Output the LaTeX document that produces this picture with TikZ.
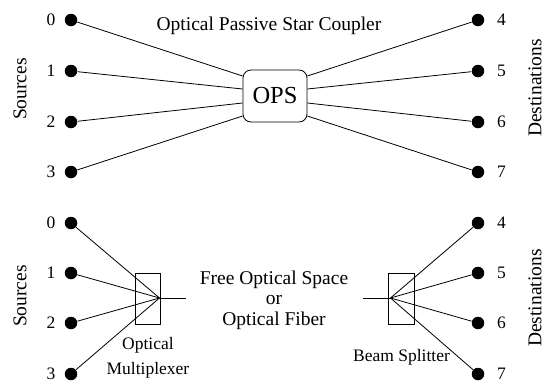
\documentclass[tikz,border=0pt]{standalone}
\usepackage{fontspec}
\setmainfont{Liberation Serif}
\usetikzlibrary{calc}
\begin{document}
\begin{tikzpicture}[x=1pt,y=-1pt, line width=0.8pt,
  dot/.style={circle,fill=black,inner sep=0pt,minimum size=12.5pt},
  num/.style={font=\fontsize{17.5}{20}\selectfont, inner sep=0pt},
  lab/.style={font=\fontsize{19.5}{22}\selectfont, inner sep=0pt},
  small/.style={font=\fontsize{17.5}{20}\selectfont, inner sep=0pt},
  devbox/.style={draw, inner sep=0pt, minimum width=25.5pt, minimum height=51pt}]
\useasboundingbox (0,0) rectangle (546,391);

% ---------- top: optical passive star ----------
\foreach \i/\y in {0/20,1/71,2/122,3/172}{
  \node[dot] (s\i) at (71,\y) {};
  \node[num] (sn\i) at (51,\y) {\i};
}
\foreach \i/\y in {4/20,5/71,6/122,7/172}{
  \node[dot] (d\i) at (478,\y) {};
  \node[num] (dn\i) at (501.5,\y) {\i};
}
\node[draw, rounded corners=8pt, minimum width=64pt, minimum height=52pt,
      inner sep=0pt, font=\fontsize{24.5}{28}\selectfont] (ops) at (275,96) {OPS};
\node[lab] (title) at (269,26) {Optical Passive Star Coupler};
\node[lab, rotate=90] (srcA) at (20,89) {Sources};
\node[lab, rotate=90] (dstA) at (535,88) {Destinations};

\draw (s0) -- ($(ops.west)+(0,-20)$);
\draw (s1) -- ($(ops.west)+(0,-7)$);
\draw (s2) -- ($(ops.west)+(0,7)$);
\draw (s3) -- ($(ops.west)+(0,20)$);
\draw (d4) -- ($(ops.east)+(0,-20)$);
\draw (d5) -- ($(ops.east)+(0,-7)$);
\draw (d6) -- ($(ops.east)+(0,7)$);
\draw (d7) -- ($(ops.east)+(0,20)$);

% ---------- bottom: multiplexer / splitter ----------
\foreach \i/\y in {0/223,1/273,2/323,3/374}{
  \node[dot] (b\i) at (71,\y) {};
  \node[num] (bn\i) at (51,\y) {\i};
}
\foreach \i/\y in {4/223,5/273,6/323,7/374}{
  \node[dot] (e\i) at (478,\y) {};
  \node[num] (en\i) at (501.5,\y) {\i};
}
\node[devbox] (mux) at (148,298.5) {};
\node[devbox] (spl) at (401.5,298.5) {};
\coordinate (mc) at (159.5,298);
\coordinate (mo) at (186,298);
\coordinate (sc) at (390.5,298);
\coordinate (si) at (363,298);

\foreach \i in {0,1,2,3}{ \draw (b\i) -- (mc); }
\foreach \i in {4,5,6,7}{ \draw (e\i) -- (sc); }
\draw (mc) -- (mo);
\draw (si) -- (sc);

\node[lab, align=center, font=\fontsize{19.5}{20.5}\selectfont] (free) at (274,300)
  {Free Optical Space\\or\\Optical Fiber};
\node[small] (mux1) at (148,345) {Optical};
\node[small] (mux2) at (148,370) {Multiplexer};
\node[small] (bs) at (401.5,357) {Beam Splitter};
\node[lab, rotate=90] (srcB) at (20,296) {Sources};
\node[lab, rotate=90] (dstB) at (535,298) {Destinations};
\end{tikzpicture}
\end{document}
